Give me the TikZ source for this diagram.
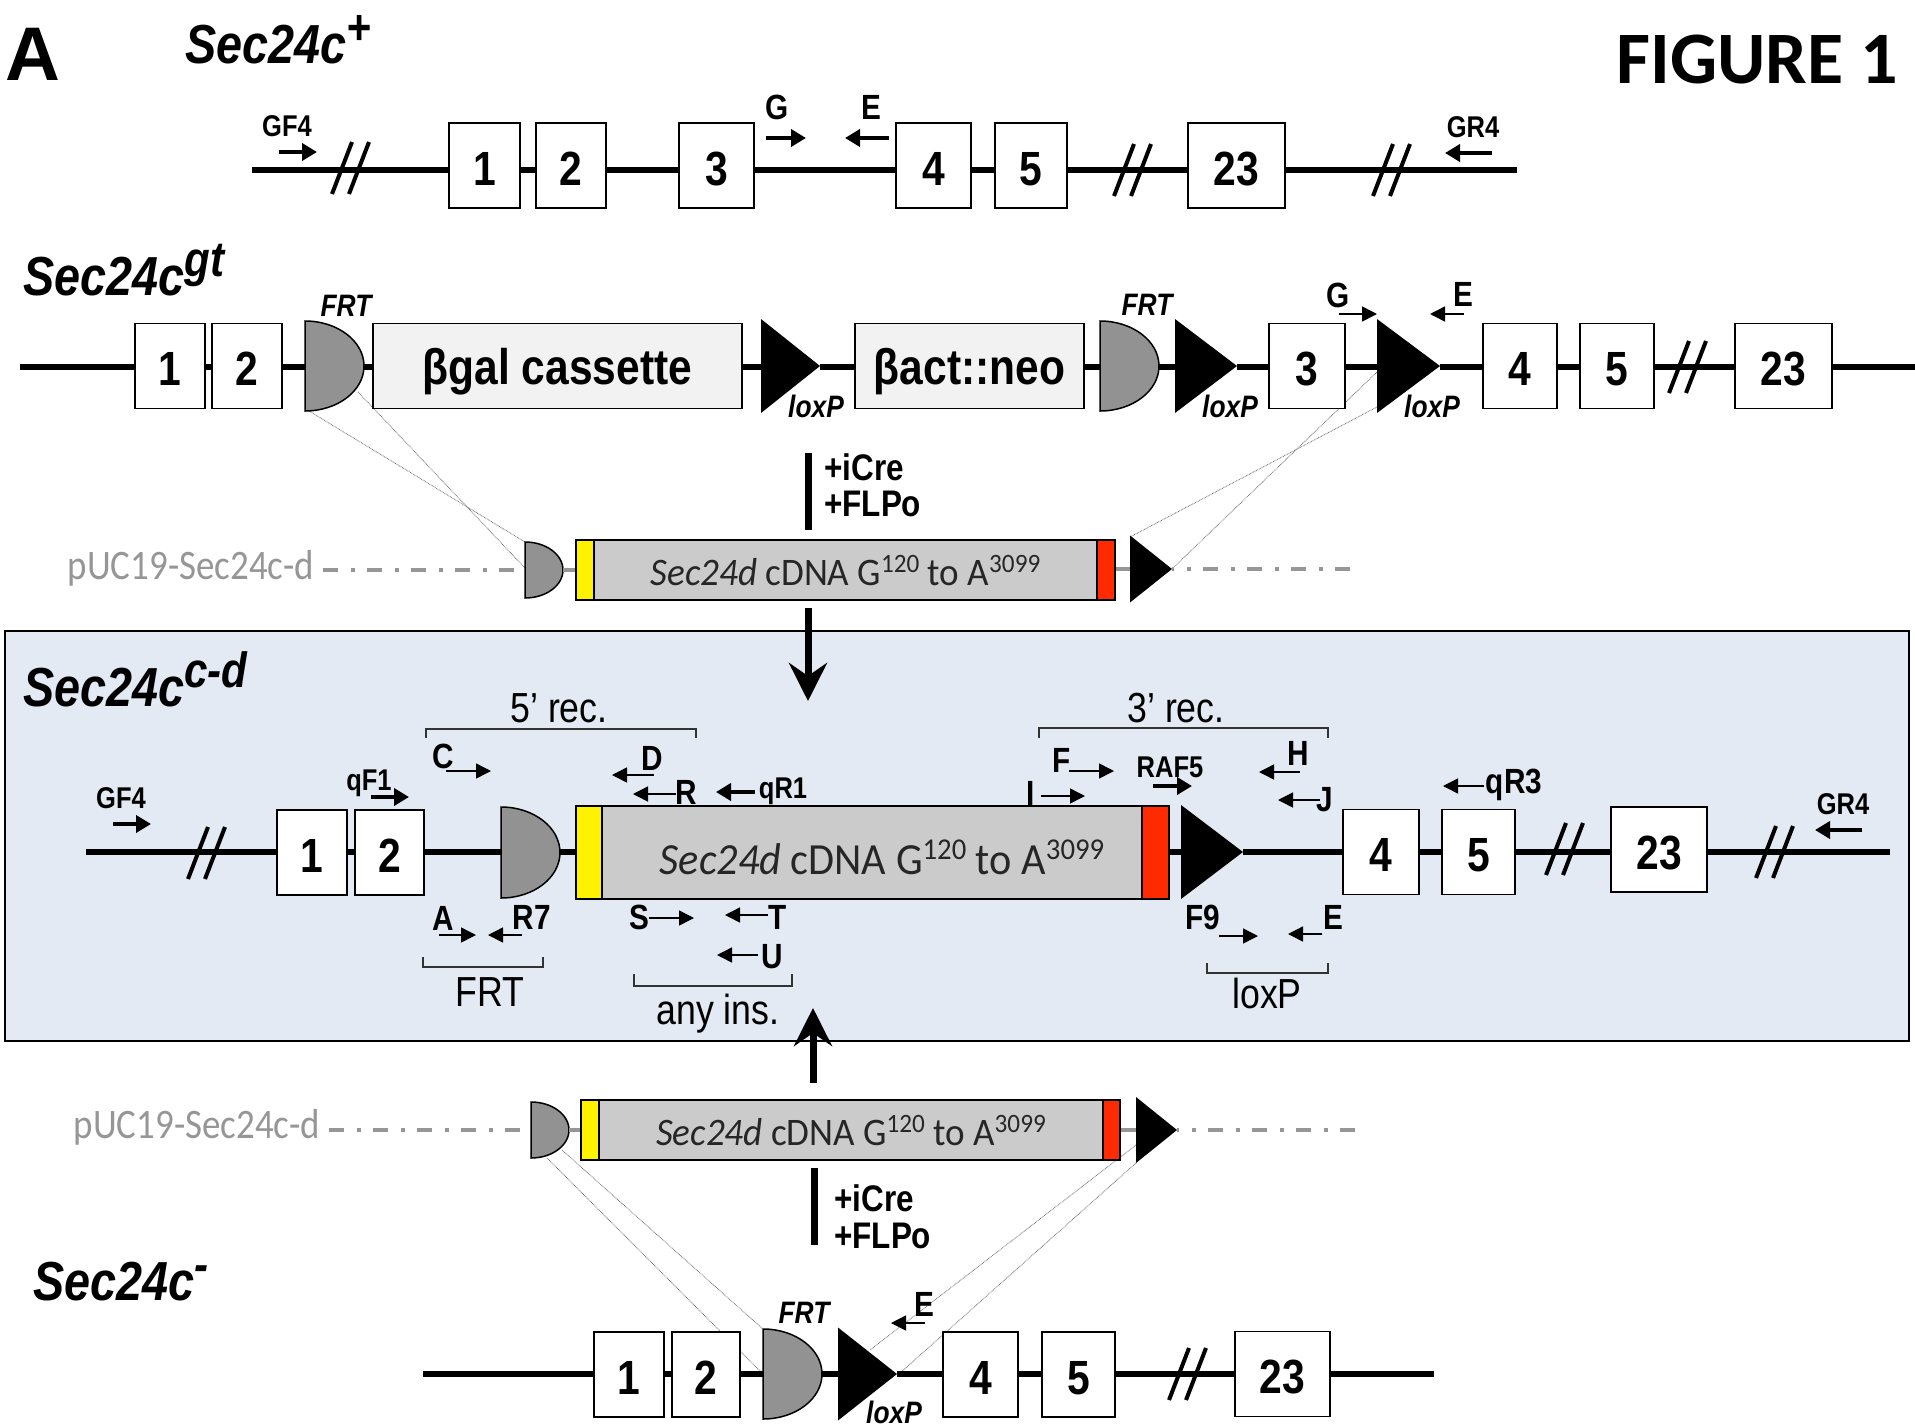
\documentclass[tikz,border=0pt]{standalone}
\usepackage{graphicx}
\usepackage{xcolor}
\usepackage{fontspec}
\setmainfont{Liberation Sans}
\newfontfamily\narrowf[FakeStretch=0.85]{Liberation Sans}
\newfontfamily\calibf[FakeStretch=0.88]{Carlito}
\newfontfamily\calibw[FakeStretch=0.95]{Carlito}
\newfontfamily\calibplain{Carlito}
\usepackage{tikz}
\usetikzlibrary{shapes, arrows.meta, positioning, calc}
\definecolor{panelblue}{HTML}{E3EAF4}
\definecolor{cdnagray}{HTML}{CBCBCB}
\definecolor{discgray}{HTML}{929292}
\definecolor{pucgray}{HTML}{969696}
\definecolor{hotred}{HTML}{FF2A00}
\newcommand{\uptext}[1]{\raisebox{.32em}{\scalebox{.68}{#1}}}
\newcommand{\titlesup}[1]{\raisebox{.33em}{\scalebox{.9}{#1}}}

\begin{document}
\begin{tikzpicture}[x=1pt, y=-1pt,
  exon/.style={rectangle, draw, fill=white, line width=1.5pt, minimum height=85pt, inner sep=0pt, text height=39.5pt, text depth=0pt, font=\narrowf\bfseries\fontsize{48}{50}\selectfont},
  cassette/.style={rectangle, draw, fill=black!5, line width=1.5pt, minimum height=85pt, inner sep=0pt, text height=48pt, text depth=10.5pt, font=\narrowf\bfseries\fontsize{50}{52}\selectfont},
  cdna/.style={rectangle, draw, line width=2pt, inner sep=0pt, fill=cdnagray, text=black!85},
  discbase/.style={rectangle, inner sep=0pt, outer sep=0pt},
  discfill/.style={draw, fill=discgray, line width=1.5pt},
  loxtri/.style={isosceles triangle, isosceles triangle stretches, fill=black, inner sep=0pt, outer sep=0pt, anchor=apex},
  dna/.style={line width=5.5pt},
  pucline/.style={line width=4pt, pucgray, dash pattern=on 15pt off 13pt on 4pt off 12pt},
  pucsolid/.style={line width=4pt, pucgray},
  nick/.style={line width=4pt},
  link/.style={line width=.8pt, black!55, dash pattern=on .8pt off .8pt},
  bracket/.style={line width=1.2pt, black!80},
  primer/.style={line width=1.5pt, -{Triangle[length=15pt,width=15pt]}},
  fatprimer/.style={line width=4.5pt, -{Triangle[length=15pt,width=17pt]}},
  recomb/.style={line width=7pt},
  bigarrow/.style={line width=7pt, -{Stealth[length=38pt,width=38pt,inset=13pt]}},
  genotype/.style={anchor=base west, inner sep=0pt, font=\narrowf\bfseries\itshape\fontsize{55}{57}\selectfont},
  sitelabel/.style={inner sep=0pt, font=\narrowf\bfseries\itshape\fontsize{31}{33}\selectfont},
  primerlabel/.style={inner sep=0pt, font=\narrowf\bfseries\fontsize{35}{37}\selectfont},
  smalllabel/.style={inner sep=0pt, font=\narrowf\bfseries\fontsize{30}{32}\selectfont},
  creLabel/.style={anchor=west, inner sep=0pt, font=\narrowf\bfseries\fontsize{37}{39}\selectfont},
  reclabel/.style={inner sep=0pt, font=\narrowf\fontsize{42}{44}\selectfont},
  puclabel/.style={inner sep=0pt, text=pucgray, font=\calibf\fontsize{42}{44}\selectfont},
  cdnatext/.style={text height=40pt, text depth=10pt, font=\calibw\fontsize{39}{41}\selectfont},
  cdnabig/.style={text height=55pt, text depth=12pt, font=\calibw\fontsize{44.5}{47}\selectfont}]

\useasboundingbox (0,0) rectangle (1915,1427);

% blue panel
\node[rectangle, draw, fill=panelblue, line width=1.5pt, minimum width=1904pt, minimum height=410pt, inner sep=0pt] (panel) at (957,836) {};

% thin homology lines
\foreach \nm/\xa/\ya/\xb/\yb in {lkA/358/392/525/568, lkB/309/411/525/542, lkC/1130/537/1377/407, lkD/1172/569/1377/372, lkE/547/1158/763/1374, lkF/562/1150/764/1330, lkG/1136/1145/870/1350, lkH/1136/1163/900/1373} {
  \coordinate (\nm s) at (\xa,\ya);
  \coordinate (\nm e) at (\xb,\yb);
  \draw[link] (\nm s) -- (\nm e);
}

% Sec24c+
\node[exon, minimum width=71pt] (a1) at (484.5,165.5) {1};
\node[exon, minimum width=70pt] (a2) at (571,165.5) {2};
\node[exon, minimum width=75pt] (a3) at (716.5,165.5) {3};
\node[exon, minimum width=75pt] (a4) at (933.5,165.5) {4};
\node[exon, minimum width=72pt] (a5) at (1031,165.5) {5};
\node[exon, minimum width=97pt] (a23) at (1236.5,165.5) {23};
\coordinate (aL) at (252,170);
\coordinate (aR) at (1517,170);

% Sec24c gt
\node[exon, minimum width=70pt] (b1) at (170,366) {1};
\node[exon, minimum width=70pt] (b2) at (247,366) {2};
\node[discbase, minimum width=59pt, minimum height=90pt] (bF1) at (334.5,366) {};
\node[cassette, minimum width=369pt] (bgal) at (557.5,366) {βgal cassette};
\node[loxtri, minimum height=59pt, minimum width=94pt] (bX1) at (820,366) {};
\node[cassette, minimum width=229pt] (bact) at (969.5,366) {βact::neo};
\node[discbase, minimum width=59pt, minimum height=90pt] (bF2) at (1129.5,366) {};
\node[loxtri, minimum height=62pt, minimum width=94pt] (bX2) at (1237,366) {};
\node[exon, minimum width=76pt] (b3) at (1307,366) {3};
\node[loxtri, minimum height=63pt, minimum width=94pt] (bX3) at (1440,366) {};
\node[exon, minimum width=74pt] (b4) at (1520,366) {4};
\node[exon, minimum width=74pt] (b5) at (1617,366) {5};
\node[exon, minimum width=97pt] (b23) at (1783.5,366) {23};
\coordinate (bL) at (20,367);
\coordinate (bR) at (1915,367);

% pUC19 above
\node[puclabel] (pucA) at (191,568) {pUC19-Sec24c-d};
\node[discbase, minimum width=38pt, minimum height=56pt] (cF) at (544,570) {};
\node[cdna, fill=yellow, minimum width=18pt, minimum height=60pt] (cY) at (585,570) {};
\node[cdna, cdnatext, minimum width=503pt, minimum height=60pt] (cD) at (845.5,570) {\textit{Sec24d} cDNA G\uptext{120} to A\uptext{3099}};
\node[cdna, fill=hotred, minimum width=18pt, minimum height=60pt] (cR) at (1106,570) {};
\node[loxtri, minimum height=42pt, minimum width=67pt] (cX) at (1172,569) {};
\coordinate (cEnd) at (1352,569);

% Sec24c c-d
\node[exon, minimum width=70pt] (d1) at (312,852.5) {1};
\node[exon, minimum width=69pt] (d2) at (389.5,852.5) {2};
\node[discbase, minimum width=59pt, minimum height=91pt] (dF) at (530.5,852.5) {};
\node[cdna, fill=yellow, minimum width=26pt, minimum height=93pt] (dY) at (589,852.5) {};
\node[cdna, cdnabig, minimum width=540pt, minimum height=93pt] (dD) at (872,852.5) {\hspace*{20pt}\textit{Sec24d} cDNA G\uptext{120} to A\uptext{3099}};
\node[cdna, fill=hotred, minimum width=27pt, minimum height=93pt] (dR) at (1155.5,852.5) {};
\node[loxtri, minimum height=62pt, minimum width=94pt] (dX) at (1243,852) {};
\node[exon, minimum width=76pt] (d4) at (1381,852) {4};
\node[exon, minimum width=73pt] (d5) at (1478.5,852) {5};
\node[exon, minimum width=96pt] (d23) at (1659,849.5) {23};
\coordinate (dL) at (86,852);
\coordinate (dR2) at (1890,852);

% pUC19 below
\node[puclabel] (pucB) at (197,1127) {pUC19-Sec24c-d};
\node[discbase, minimum width=38pt, minimum height=56pt] (eF) at (550,1130) {};
\node[cdna, fill=yellow, minimum width=18pt, minimum height=60pt] (eY) at (590,1130) {};
\node[cdna, cdnatext, minimum width=504pt, minimum height=60pt] (eD) at (851,1130) {\textit{Sec24d} cDNA G\uptext{120} to A\uptext{3099}};
\node[cdna, fill=hotred, minimum width=17pt, minimum height=60pt] (eR) at (1111.5,1130) {};
\node[loxtri, minimum height=41pt, minimum width=66pt] (eX) at (1177,1130) {};
\coordinate (eEnd) at (1357,1130);

% Sec24c minus
\node[exon, minimum width=70pt] (f1) at (629,1374.5) {1};
\node[exon, minimum width=68pt] (f2) at (706,1374.5) {2};
\node[discbase, minimum width=59pt, minimum height=90pt] (fF) at (792.5,1374) {};
\node[loxtri, minimum height=59pt, minimum width=93pt] (fX) at (897,1374) {};
\node[exon, minimum width=75pt] (f4) at (980.5,1374.5) {4};
\node[exon, minimum width=73pt] (f5) at (1078.5,1374.5) {5};
\node[exon, minimum width=95pt] (f23) at (1282.5,1374) {23};
\coordinate (fL) at (423,1374);
\coordinate (fR) at (1434,1374);

% half discs
\foreach \nm/\rx/\ry in {bF1/59/45, bF2/59/45, cF/38/28, dF/59/45.5, eF/38/28, fF/59/45}
  \draw[discfill] (\nm.north west) arc[start angle=-90, end angle=90, x radius=\rx, y radius=\ry] -- cycle;

% backbones
\draw[dna] (aL) -- (aL -| a1.west);
\draw[dna] (bL) -- (bL -| b1.west);
\draw[dna] (dL) -- (dL -| d1.west);
\draw[dna] (fL) -- (fL -| f1.west);
\draw[dna] (a23.east |- aR) -- (aR);
\draw[dna] (b23.east |- bR) -- (bR);
\draw[dna] (d23.east |- dR2) -- (dR2);
\draw[dna] (f23.east |- fR) -- (fR);
\foreach \a/\b/\r in {a1/a2/aL, a2/a3/aL, a3/a4/aL, a4/a5/aL, a5/a23/aL,
  b1/b2/bL, b2/bF1/bL, bF1/bgal/bL, bgal/bX1/bL, bX1/bact/bL, bact/bF2/bL, bF2/bX2/bL, bX2/b3/bL, b3/bX3/bL, bX3/b4/bL, b4/b5/bL, b5/b23/bL,
  d1/d2/dL, d2/dF/dL, dF/dY/dL, dR/dX/dL, dX/d4/dL, d4/d5/dL, d5/d23/dL,
  f1/f2/fL, f2/fF/fL, fF/fX/fL, fX/f4/fL, f4/f5/fL, f5/f23/fL}
  \draw[dna] (\a.east |- \r) -- (\b.west |- \r);

% pUC19 lines
\draw[pucline] ([xshift=9pt]pucA.east |- cF.west) -- (cF.west);
\draw[pucline, dash phase=13pt] (cX.apex) -- (cEnd);
\draw[pucsolid] (cF.east) -- (cY.west);
\draw[pucsolid] (cR.east |- cX.apex) -- (cX.west |- cX.apex);
\draw[pucline] ([xshift=9pt]pucB.east |- eF.west) -- (eF.west);
\draw[pucline, dash phase=13pt] (eX.apex) -- (eEnd);
\draw[pucsolid] (eF.east) -- (eY.west);
\draw[pucsolid] (eR.east) -- (eX.west |- eR.east);

% breaks
\foreach \xx/\yy in {350/168, 1132/170, 1391/170, 1687/367, 206/853, 1564/849, 1774/852, 1187/1374} {
  \draw[nick] (\xx-18,\yy+26) -- (\xx+2,\yy-26);
  \draw[nick] (\xx-1,\yy+26) -- (\xx+19,\yy-26);
}

% cre bars and big arrows
\coordinate (barAs) at (808,453);
\coordinate (barAe) at (808,530);
\coordinate (barBs) at (814,1168);
\coordinate (barBe) at (814,1245);
\coordinate (downs) at (808,608);
\coordinate (downe) at (808,701);
\coordinate (ups) at (813,1083);
\coordinate (upe) at (813,1008);
\draw[recomb] (barAs) -- (barAe);
\draw[recomb] (barBs) -- (barBe);
\draw[bigarrow] (downs) -- (downe);
\draw[bigarrow] (ups) -- (upe);
\node[creLabel] (creA) at (824,467) {+iCre};
\node[creLabel] (flpA) at (824,504) {+FLPo};
\node[creLabel] (creB) at (834,1198) {+iCre};
\node[creLabel] (flpB) at (834,1236) {+FLPo};

% primers
\foreach \nm/\xa/\ya/\xb in {pG/766/138/806, pE/889/138/845, pGFa/279/152/317, pGRa/1492/153/1445, pGFd/113/824/151, pqF/371/797/409, pqR/755/792/716, pRAF/1153/786/1192, pGRd/1862/830/1815} {
  \coordinate (\nm s) at (\xa,\ya);
  \coordinate (\nm e) at (\xb,\ya);
  \draw[fatprimer] (\nm s) -- (\nm e);
}
\foreach \nm/\xa/\ya/\xb in {tG/1339/314/1377, tE/1464/314/1430, tC/446/771/491, tD/654/775/612, tR/676/794/633, tA/439/935/476, tRs/522/935/488, tS/649/918/694, tT/768/915/725, tU/758/955/717, tF/1069/771/1114, tI/1041/796/1085, tH/1300/772/1259, tJ/1320/800/1278, tq/1484/786/1443, tFn/1219/936/1258, tEd/1322/934/1288, tEf/925/1323/891} {
  \coordinate (\nm s) at (\xa,\ya);
  \coordinate (\nm e) at (\xb,\ya);
  \draw[primer] (\nm s) -- (\nm e);
}

% primer labels
\foreach \nm/\xx/\yy/\txt in {lG/777/107/G, lE/871/107/E, lGb/1338/295/G, lEb/1463/294/E, lC/443/756/C, lD/652/758/D, lR/686/792/R, lA/443/918/A, lRs/532/917/R7, lS/639/917/S, lT/778/917/T, lU/772/957/U, lF/1062/760/F, lI/1031/793/I, lH/1298/753/H, lJ/1325/800/J, lqRt/1514/785/qR3, lFn/1203/917/F9, lEd/1333/917/E, lEf/924/1304/E}
  \node[primerlabel] (\nm) at (\xx,\yy) {\txt};
\foreach \nm/\xx/\yy/\txt in {lGFa/287/126/GF4, lGRa/1473/127/GR4, lGFd/121/798/GF4, lqF/369/783/qF1, lqR/783/791/qR1, lRAF/1170/767/RAF5, lGRd/1843/804/GR4}
  \node[smalllabel] (\nm) at (\xx,\yy) {\txt};

% site labels
\foreach \nm/\xx/\yy/\txt in {sFa/346/306/FRT, sFb/1147/305/FRT, sFc/804/1313/FRT, sXa/816/406/loxP, sXb/1230/406/loxP, sXc/1432/406/loxP, sXd/894/1412/loxP}
  \node[sitelabel] (\nm) at (\xx,\yy) {\txt};

% brackets
\foreach \nm/\xa/\ya/\xb/\hh in {brA/426/738/696/-9, brB/1039/738/1328/-10, brC/423/957/543/10, brD/634/974/792/12, brE/1207/963/1328/10} {
  \coordinate (\nm a) at (\xa,\ya);
  \coordinate (\nm b) at (\xb,\ya);
  \draw[bracket] (\nm a) -- ++(0,\hh) -| (\nm b);
}
\node[reclabel] (recA) at (559,708) {5’ rec.};
\node[reclabel] (recB) at (1176,708) {3’ rec.};
\node[reclabel] (recC) at (490,992) {FRT};
\node[reclabel] (recD) at (718,1014) {any ins.};
\node[reclabel] (recE) at (1267,993) {loxP};

% titles
\node[inner sep=0pt, anchor=base west, font=\bfseries\fontsize{76}{78}\selectfont] (panelA) at (5,80) {A};
\node[inner sep=0pt, anchor=base east, font=\calibplain\bfseries\fontsize{74}{76}\selectfont] (figname) at (1898,83) {FIGURE 1};
\node[genotype] (gtplus) at (185,63) {Sec24c\titlesup{+}};
\node[genotype] (gtgt) at (23,295) {Sec24c\titlesup{gt}};
\node[genotype] (gtcd) at (23,706) {Sec24c\titlesup{c-d}};
\node[genotype] (gtminus) at (33,1300) {Sec24c\titlesup{-}};

\end{tikzpicture}
\end{document}
